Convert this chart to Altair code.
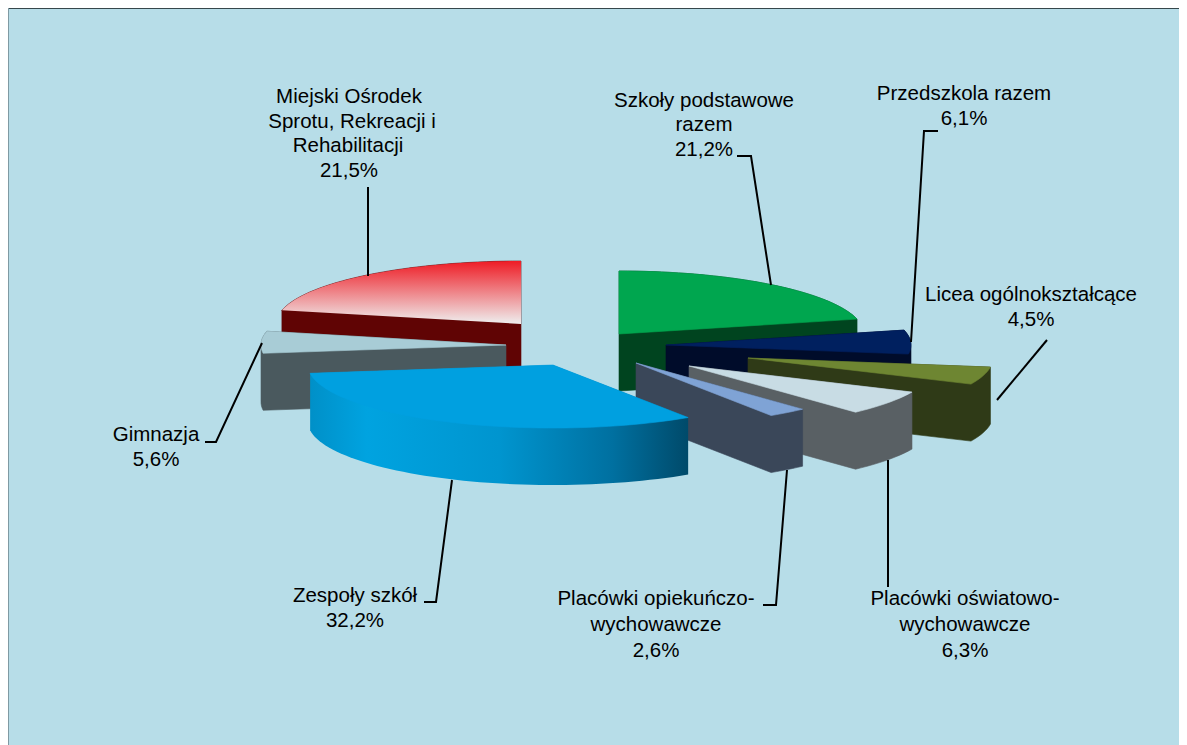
import math
import altair as alt
import pandas as pd

# ---- values ----
names = ["Szkoły podstawowe razem", "Przedszkola razem", "Licea ogólnokształcące",
         "Placówki oświatowo-wychowawcze", "Placówki opiekuńczo-wychowawcze",
         "Zespoły szkół", "Gimnazja", "Miejski Ośrodek Sprotu, Rekreacji i Rehabilitacji"]
shares = [21.2, 6.1, 4.5, 6.3, 2.6, 32.2, 5.6, 21.5]

label_text = ["Miejski Ośrodek", "Sprotu, Rekreacji i", "Rehabilitacji", "21,5%",
              "Szkoły podstawowe", "razem", "21,2%",
              "Przedszkola razem", "6,1%",
              "Licea ogólnokształcące", "4,5%",
              "Placówki oświatowo-", "wychowawcze", "6,3%",
              "Placówki opiekuńczo-", "wychowawcze", "2,6%",
              "Zespoły szkół", "32,2%",
              "Gimnazja", "5,6%"]
label_x = [349, 352, 348, 349, 704, 704, 704, 964, 964, 1031, 1031, 965, 965, 965, 656, 656, 656, 355, 355, 156, 156]
label_y = [103, 128, 152, 177, 107, 131, 156, 100, 125, 301, 326, 605, 631, 657, 605, 631, 657, 602, 627, 441, 466]

# ---- layout ----
W, H = 1171, 737
OFF = 8
RX, RY, DEPTH = 245, 63, 57
apex = [(619, 334), (666, 345), (748, 358), (689, 366), (636, 363), (553, 365), (506, 345), (521, 324)]
draw_order = [7, 0, 6, 1, 2, 3, 4, 5]
BG = "#B7DDE8"

leaders = [
    [(368, 187), (368, 276)],
    [(737, 156), (751, 156), (771, 285)],
    [(938, 131), (924, 131), (911, 342)],
    [(1047, 340), (997, 400)],
    [(888, 460), (888, 587)],
    [(787, 470), (776, 605), (763, 605)],
    [(452, 480), (436, 602), (424, 602)],
    [(262, 343), (216, 442), (205, 442)],
]


def grad(stops, x2=0, y2=1):
    return alt.LinearGradient(gradient="linear", x1=0, y1=0, x2=x2, y2=y2,
                              stops=[alt.GradientStop(offset=o, color=c) for o, c in stops])


top_fill = ["#00A64F", "#00205F", "#6E8632", "#C8DCE4", "#7FA3D5", "#00A0E0", "#A8CCD6",
            grad([(0, "#EE1C25"), (1, "#EFEFEF")])]
wall_fill = ["#00441F", "#000C2A", "#2F3A17", "#596064", "#3A4759",
             grad([(0, "#0090C8"), (0.15, "#00A3E0"), (0.5, "#0095CF"), (0.8, "#0070A0"), (1, "#004A6A")], x2=1, y2=0),
             "#4A595E", "#600404"]


def wedge(cx, cy, a0, a1):
    n = max(6, int((a1 - a0) / 2))
    pts = [(cx, cy)]
    for i in range(n + 1):
        a = math.radians(a0 + (a1 - a0) * i / n)
        pts.append((cx + RX * math.sin(a), cy - RY * math.cos(a)))
    return pts


def hull(points):
    pts = sorted(set(points))
    def half(seq):
        out = []
        for p in seq:
            while len(out) > 1 and (out[-1][0]-out[-2][0])*(p[1]-out[-2][1]) - (out[-1][1]-out[-2][1])*(p[0]-out[-2][0]) <= 0:
                out.pop()
            out.append(p)
        return out[:-1]
    return half(pts) + half(pts[::-1])


def feature(pts):
    ring = [list(p) for p in pts] + [list(pts[0])]
    return {"type": "Feature", "properties": {}, "geometry": {"type": "Polygon", "coordinates": [ring]}}


def shape(pts, fill, stroke):
    return alt.Chart(alt.Data(values=[feature(pts)])).mark_geoshape(
        fill=fill, stroke=stroke, strokeWidth=0.6
    ).project(type="identity", scale=1, translate=[-OFF, -OFF])


bounds = [0]
for s in shares:
    bounds.append(bounds[-1] + s * 3.6)

layers = []
for i in draw_order:
    cx, cy = apex[i]
    face = wedge(cx, cy, bounds[i], bounds[i + 1])
    body = hull(face + [(x, y + DEPTH) for x, y in face])
    wf, tf = wall_fill[i], top_fill[i]
    layers.append(shape(body, wf, wf if isinstance(wf, str) else "#00000000"))
    layers.append(shape(face, tf, tf if isinstance(tf, str) else "#00000000"))

xs = alt.Scale(domain=[OFF, OFF + W], range=[0, W])
ys = alt.Scale(domain=[OFF + H, OFF], range=[H, 0])

lead_df = pd.DataFrame([{"id": k, "o": j, "x": p[0], "y": p[1]}
                        for k, line in enumerate(leaders) for j, p in enumerate(line)])
lead = alt.Chart(lead_df).mark_line(color="#000000", strokeWidth=2).encode(
    x=alt.X("x:Q", scale=xs, axis=None), y=alt.Y("y:Q", scale=ys, axis=None),
    detail="id:N", order="o:Q")

text = alt.Chart(pd.DataFrame({"t": label_text, "x": label_x, "y": label_y})).mark_text(
    font="Liberation Sans", fontSize=20.5, color="#000000", align="center", baseline="alphabetic"
).encode(x=alt.X("x:Q", scale=xs, axis=None), y=alt.Y("y:Q", scale=ys, axis=None), text="t:N")

top_border = alt.Chart(pd.DataFrame({"x": [OFF], "x2": [OFF + W], "y": [OFF]})).mark_rule(
    color="#36474C", strokeWidth=2).encode(
    x=alt.X("x:Q", scale=xs, axis=None), x2="x2:Q", y=alt.Y("y:Q", scale=ys, axis=None))
left_border = alt.Chart(pd.DataFrame({"x": [OFF], "y": [OFF], "y2": [OFF + H]})).mark_rule(
    color="#7F9AA3", strokeWidth=2).encode(
    x=alt.X("x:Q", scale=xs, axis=None), y=alt.Y("y:Q", scale=ys, axis=None), y2="y2:Q")

chart = alt.layer(*layers, lead, text, top_border, left_border).properties(
    width=W, height=H, background=BG, padding=0,
    autosize=alt.AutoSizeParams(type="none")
).configure_view(stroke=None)

chart.save("out.html", embed_options={"renderer": "svg", "actions": False})
